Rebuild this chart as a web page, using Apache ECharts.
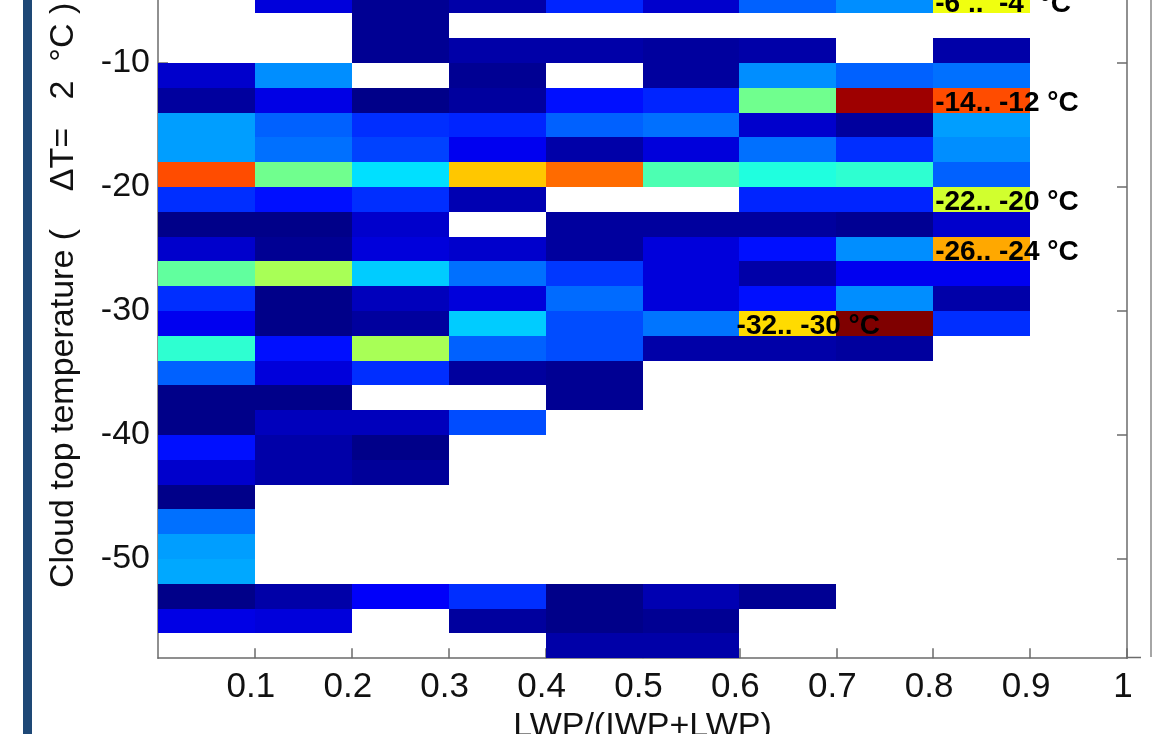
<!DOCTYPE html>
<html>
<head>
<meta charset="utf-8">
<title>Cloud top temperature vs LWP/(IWP+LWP)</title>
<script src="https://cdn.jsdelivr.net/npm/echarts@6/dist/echarts.min.js"></script>
<style>
  html, body { margin: 0; padding: 0; background: #fff; }
  #main { width: 1152px; height: 734px; }
</style>
</head>
<body>
<div id="main"></div>
<script>
// left edge of each LWP/(IWP+LWP) bin, bins are 0.1 wide
let fracBins = [0, 0.1, 0.2, 0.3, 0.4, 0.5, 0.6, 0.7, 0.8];
let fracStep = 0.1;

// lower edge of each cloud top temperature bin (2 °C wide), top row first
let tempBins = [-6, -8, -10, -12, -14, -16, -18, -20, -22, -24, -26, -28, -30, -32,
                -34, -36, -38, -40, -42, -44, -46, -48, -50, -52, -54, -56, -58];
let tempStep = 2;

// normalised frequency per cell (null = empty cell)
let cellValues = [
  [null, 0.09, 0.02, 0.04, 0.16, 0.075, 0.22, 0.265, 0.61],
  [null, null, 0.02, null, null, null, null, null, null],
  [null, null, 0.02, 0.04, 0.04, 0.03, 0.04, null, 0.04],
  [0.075, 0.265, null, 0.02, null, 0.03, 0.265, 0.22, 0.235],
  [0.03, 0.1, 0.01, 0.03, 0.14, 0.16, 0.485, 0.97, 0.8],
  [0.28, 0.22, 0.17, 0.16, 0.22, 0.235, 0.075, 0.03, 0.28],
  [0.28, 0.235, 0.19, 0.11, 0.04, 0.09, 0.235, 0.17, 0.265],
  [0.8, 0.485, 0.345, 0.68, 0.77, 0.45, 0.406, 0.42, 0.22],
  [0.17, 0.14, 0.17, 0.05, null, null, 0.16, 0.16, 0.58],
  [0.01, 0.01, 0.075, null, 0.03, 0.03, 0.03, 0.02, 0.075],
  [0.075, 0.02, 0.09, 0.075, 0.03, 0.09, 0.14, 0.265, 0.71],
  [0.47, 0.54, 0.325, 0.235, 0.18, 0.09, 0.04, 0.11, 0.11],
  [0.17, 0.01, 0.06, 0.09, 0.23, 0.09, 0.14, 0.265, 0.04],
  [0.11, 0.01, 0.03, 0.325, 0.2, 0.24, 0.66, 1.0, 0.17],
  [0.42, 0.14, 0.54, 0.22, 0.2, 0.04, 0.04, 0.03, null],
  [0.22, 0.09, 0.17, 0.03, 0.02, null, null, null, null],
  [0.01, 0.01, null, null, 0.02, null, null, null, null],
  [0.01, 0.06, 0.06, 0.2, null, null, null, null, null],
  [0.14, 0.04, 0.01, null, null, null, null, null, null],
  [0.075, 0.04, 0.025, null, null, null, null, null, null],
  [0.01, null, null, null, null, null, null, null, null],
  [0.235, null, null, null, null, null, null, null, null],
  [0.28, null, null, null, null, null, null, null, null],
  [0.29, null, null, null, null, null, null, null, null],
  [0.01, 0.04, 0.12, 0.17, 0.01, 0.05, 0.02, null, null],
  [0.1, 0.09, null, 0.03, 0.01, 0.02, null, null, null],
  [null, null, null, null, 0.04, 0.04, null, null, null]
];

let xTicks = [0.1, 0.2, 0.3, 0.4, 0.5, 0.6, 0.7, 0.8, 0.9, 1];
let yTicks = [-50, -40, -30, -20, -10];

// text notes put on the plot
let noteFrac = [0.8, 0.8, 0.8, 0.8, 0.595];
let noteTemp = [-5, -13, -21, -25, -31];
let noteText = ['-6 ..  -4  °C', '-14.. -12 °C', '-22.. -20 °C', '-26.. -24 °C', '-32.. -30 °C'];

// matlab jet, evenly spaced stops
let jet = ['#00007f', '#0000ff', '#007fff', '#00ffff', '#7fff7f', '#ffff00', '#ff7f00', '#ff0000', '#7f0000'];

let axisGrey = '#6b6b6b';
let narrowFont = '"Liberation Sans Narrow", "Liberation Sans", Arial, sans-serif';
let plainFont = '"Liberation Sans", Arial, sans-serif';

function buildCells() {
  let cells = [];
  tempBins.forEach(function (t, row) {
    fracBins.forEach(function (f, col) {
      let v = cellValues[row][col];
      if (v !== null) {
        cells.push([f, t, v]);
      }
    });
  });
  return cells;
}

function buildNotes() {
  return noteText.map(function (text, i) {
    return {name: text, value: [noteFrac[i], noteTemp[i]]};
  });
}

/**
 * one coloured rectangle per bin
 */
function renderCell(params, api) {
  let f = api.value(0);
  let t = api.value(1);
  let a = api.coord([f, t + tempStep]);
  let b = api.coord([f + fracStep, t]);
  let x0 = Math.round(a[0]);
  let y0 = Math.round(a[1]);
  let x1 = Math.round(b[0]);
  let y1 = Math.round(b[1]);
  return {
    type: 'rect',
    shape: {x: x0, y: y0, width: x1 - x0, height: y1 - y0},
    style: {fill: api.visual('color')}
  };
}

let option = {
  backgroundColor: '#fff',
  animation: false,
  grid: {
    left: 158,
    right: 25,
    top: -11.4,
    bottom: 75.8,
    outerBoundsMode: 'none'
  },
  visualMap: {
    show: false,
    type: 'continuous',
    min: 0,
    max: 1,
    dimension: 2,
    seriesIndex: 0,
    inRange: {color: jet}
  },
  xAxis: {
    type: 'value',
    min: 0,
    max: 1,
    axisLine: {show: true, onZero: false, lineStyle: {color: axisGrey, width: 1.5}},
    axisTick: {show: true, inside: true, length: 10, customValues: xTicks, lineStyle: {color: axisGrey, width: 1.5}},
    axisLabel: {customValues: xTicks, margin: 12, padding: [0, 8, 0, 0], fontSize: 35, fontFamily: narrowFont, color: '#111'},
    splitLine: {show: false},
    name: 'LWP/(IWP+LWP)',
    nameLocation: 'middle',
    nameGap: 46,
    nameTextStyle: {fontSize: 34, fontFamily: narrowFont, color: '#111'}
  },
  yAxis: [
    {
      type: 'value',
      min: -58,
      max: -4,
      axisLine: {show: true, onZero: false, lineStyle: {color: axisGrey, width: 1.5}},
      axisTick: {show: true, inside: true, length: 10, customValues: yTicks, lineStyle: {color: axisGrey, width: 1.5}},
      axisLabel: {customValues: yTicks, margin: 8, fontSize: 34, fontFamily: plainFont, color: '#111'},
      splitLine: {show: false}
    },
    {
      type: 'value',
      position: 'right',
      min: -58,
      max: -4,
      axisLine: {show: true, onZero: false, lineStyle: {color: axisGrey, width: 1.5}},
      axisTick: {show: true, inside: true, length: 10, customValues: yTicks, lineStyle: {color: axisGrey, width: 1.5}},
      axisLabel: {show: false},
      splitLine: {show: false}
    }
  ],
  graphic: [
    // slide frame bits around the figure
    {type: 'rect', left: 23, top: 0, shape: {width: 9, height: 734}, style: {fill: '#1e4876'}},
    {type: 'line', shape: {x1: 1151, y1: 0, x2: 1151, y2: 657}, style: {stroke: '#888', lineWidth: 1.5}},
    {type: 'line', shape: {x1: 1127, y1: 657.5, x2: 1141, y2: 657.5}, style: {stroke: axisGrey, lineWidth: 1.5}},
    {
      type: 'text',
      x: 64,
      y: 588,
      rotation: Math.PI / 2,
      style: {
        text: 'Cloud top temperature (    ΔT=   2  °C )',
        fontSize: 34,
        fontFamily: plainFont,
        fill: '#111',
        align: 'left',
        verticalAlign: 'middle'
      }
    }
  ],
  series: [
    {
      type: 'custom',
      renderItem: renderCell,
      encode: {x: 0, y: 1},
      data: buildCells(),
      silent: true
    },
    {
      type: 'scatter',
      symbolSize: 0,
      silent: true,
      z: 5,
      itemStyle: {opacity: 1},
      data: buildNotes(),
      label: {
        show: true,
        position: 'right',
        distance: 2,
        offset: [0, 3],
        formatter: '{b}',
        fontFamily: plainFont,
        fontWeight: 'bold',
        fontSize: 28,
        color: '#000',
        opacity: 1,
        textBorderWidth: 0
      }
    }
  ]
};

let myChart = echarts.init(document.getElementById('main'));
myChart.setOption(option);
</script>
</body>
</html>
